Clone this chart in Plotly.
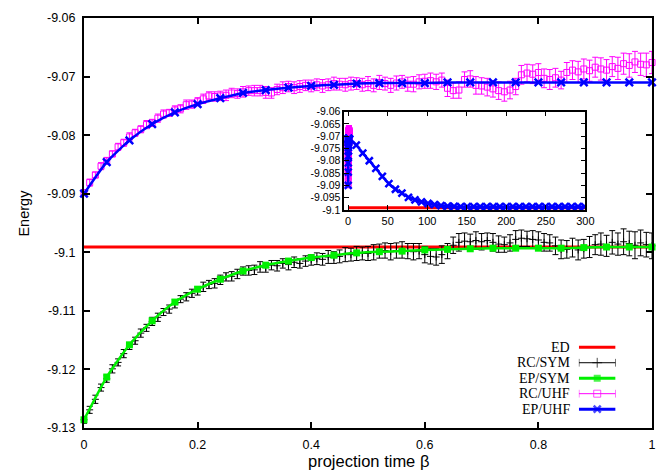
import plotly.graph_objects as go

# ---------------- data ----------------
beta_fine = [round(0.01 * i, 2) for i in range(101)]   # RC samples, step 0.01
beta_ep = [round(0.04 * i, 2) for i in range(26)]      # EP samples, step 0.04

e_ed = -9.0991  # exact diagonalisation

rc_sym = [
    -9.1286, -9.1269, -9.1251, -9.1231, -9.1216, -9.1199, -9.1188, -9.1173, -9.1160, -9.1151,
    -9.1138, -9.1129, -9.1118, -9.1111, -9.1102, -9.1097, -9.1088, -9.1080, -9.1076, -9.1070,
    -9.1066, -9.1059, -9.1055, -9.1053, -9.1047, -9.1042, -9.1041, -9.1037, -9.1032, -9.1031,
    -9.1030, -9.1025, -9.1026, -9.1022, -9.1023, -9.1019, -9.1021, -9.1017, -9.1019, -9.1015,
    -9.1013, -9.1011, -9.1012, -9.1008, -9.1009, -9.1007, -9.1004, -9.1004, -9.1002, -9.1002,
    -9.1002, -9.1000, -9.0998, -9.0997, -9.0999, -9.0997, -9.0996, -9.0998, -9.0999, -9.0998,
    -9.1004, -9.1007, -9.1008, -9.1004, -9.0998, -9.0988, -9.0983, -9.0981, -9.0982, -9.0980,
    -9.0982, -9.0980, -9.0983, -9.0986, -9.0987, -9.0984, -9.0978, -9.0976, -9.0977, -9.0978,
    -9.0979, -9.0983, -9.0984, -9.0989, -9.0995, -9.0995, -9.0992, -9.0996, -9.0994, -9.0991,
    -9.0987, -9.0986, -9.0989, -9.0983, -9.0986, -9.0982, -9.0985, -9.0988, -9.0984, -9.0987,
    -9.0989,
]
# error bars in units of 1e-4
rc_sym_err = [
    6, 6, 7, 6, 6, 7, 6, 7, 6, 6, 7, 6, 7, 7, 6, 7, 7, 6, 7, 7,
    7, 8, 7, 8, 8, 7, 8, 8, 7, 8, 8, 9, 8, 8, 9, 8, 9, 9, 8, 9,
    9, 10, 10, 11, 10, 11, 12, 11, 12, 11, 12, 13, 12, 13, 14, 13, 14, 13, 14, 13,
    14, 13, 14, 15, 13, 14, 15, 14, 13, 15, 14, 13, 15, 14, 13, 14, 15, 14, 13, 15,
    14, 15, 14, 15, 16, 15, 16, 17, 16, 18, 17, 19, 18, 20, 19, 22, 21, 23, 22, 21, 22,
]

ep_sym = [
    -9.1286, -9.1213, -9.1158, -9.1117, -9.1085, -9.1063, -9.1046, -9.1032, -9.1022, -9.1015,
    -9.1009, -9.1005, -9.1001, -9.0999, -9.0998, -9.0996, -9.0995, -9.0994, -9.0993, -9.0993,
    -9.0993, -9.0993, -9.0992, -9.0991, -9.0991, -9.0991,
]

rc_uhf = [
    -9.0898, -9.0881, -9.0868, -9.0853, -9.0844, -9.0832, -9.0820, -9.0813, -9.0803, -9.0796,
    -9.0790, -9.0782, -9.0779, -9.0771, -9.0764, -9.0762, -9.0757, -9.0755, -9.0748, -9.0747,
    -9.0743, -9.0738, -9.0733, -9.0734, -9.0733, -9.0732, -9.0728, -9.0729, -9.0726, -9.0724,
    -9.0724, -9.0724, -9.0727, -9.0728, -9.0722, -9.0719, -9.0717, -9.0719, -9.0717, -9.0715,
    -9.0716, -9.0714, -9.0716, -9.0714, -9.0712, -9.0713, -9.0714, -9.0712, -9.0712, -9.0714,
    -9.0712, -9.0715, -9.0710, -9.0712, -9.0715, -9.0711, -9.0709, -9.0713, -9.0713, -9.0709,
    -9.0708, -9.0707, -9.0709, -9.0706, -9.0720, -9.0724, -9.0723, -9.0705, -9.0704, -9.0715,
    -9.0716, -9.0718, -9.0721, -9.0724, -9.0726, -9.0723, -9.0717, -9.0697, -9.0694, -9.0696,
    -9.0693, -9.0703, -9.0705, -9.0702, -9.0706, -9.0693, -9.0689, -9.0692, -9.0687, -9.0690,
    -9.0684, -9.0687, -9.0689, -9.0683, -9.0686, -9.0678, -9.0681, -9.0675, -9.0679, -9.0680,
    -9.0676,
]
rc_uhf_err = [
    5, 6, 5, 6, 6, 5, 6, 6, 7, 6, 6, 7, 6, 7, 7, 6, 7, 7, 8, 7,
    7, 8, 7, 8, 8, 9, 8, 8, 9, 8, 9, 9, 10, 9, 9, 10, 9, 10, 10, 9,
    10, 10, 11, 10, 11, 10, 11, 11, 10, 11, 12, 11, 12, 11, 12, 12, 11, 12, 13, 12,
    12, 13, 13, 12, 14, 13, 14, 13, 14, 15, 14, 15, 14, 15, 16, 15, 14, 16, 15, 16,
    15, 16, 17, 16, 15, 17, 16, 18, 17, 18, 17, 19, 18, 17, 19, 18, 20, 18, 19, 20, 19,
]

ep_uhf = [
    -9.0900, -9.0846, -9.0809, -9.0781, -9.0761, -9.0747, -9.0737, -9.0728, -9.0723, -9.0719,
    -9.0716, -9.0714, -9.0712, -9.0711, -9.0711, -9.0711, -9.0710, -9.0710, -9.0710, -9.0710,
    -9.0710, -9.0710, -9.0710, -9.0710, -9.0710, -9.0710,
]

# long projection run of EP/UHF (inset)
beta_long = [
    2, 10.25, 18.5, 26.75, 35, 43.25, 51.5, 59.75, 68, 76.25, 84.5, 92.75, 101,
    109.25, 117.5, 125.75, 134, 142.25, 150.5, 158.75, 167, 175.25, 183.5, 191.75,
    200, 208.25, 216.5, 224.75, 233, 241.25, 249.5, 257.75, 266, 274.25, 282.5,
    290.75, 299,
]
ep_uhf_long = [
    -9.0712, -9.0736, -9.0769, -9.0800, -9.0831, -9.0864, -9.0893, -9.0916, -9.0932,
    -9.0949, -9.0959, -9.0967, -9.0974, -9.0979, -9.0983, -9.0985, -9.0986, -9.0987,
    -9.0987, -9.0987, -9.0987, -9.0987, -9.0987, -9.0987, -9.0987, -9.0987, -9.0987,
    -9.0987, -9.0987, -9.0987, -9.0987, -9.0987, -9.0987, -9.0987, -9.0987, -9.0987,
    -9.0987,
]

series_names = ["ED", "RC/SYM", "EP/SYM", "RC/UHF", "EP/UHF"]

y_ticks = [-9.13, -9.12, -9.11, -9.10, -9.09, -9.08, -9.07, -9.06]
y_ticktext = ["-9.13", "-9.12", "-9.11", "-9.1", "-9.09", "-9.08", "-9.07", "-9.06"]
x_ticks = [0, 0.2, 0.4, 0.6, 0.8, 1]
x_ticktext = ["0", "0.2", "0.4", "0.6", "0.8", "1"]
inset_y_ticks = [-9.1, -9.095, -9.09, -9.085, -9.08, -9.075, -9.07, -9.065, -9.06]
inset_y_ticktext = ["-9.1", "-9.095", "-9.09", "-9.085", "-9.08", "-9.075", "-9.07", "-9.065", "-9.06"]
inset_x_ticks = [0, 50, 100, 150, 200, 250, 300]

ERR_UNIT = 1e-4

# ---------------- style ----------------
RED, BLACK, GREEN, MAGENTA, BLUE = "#ff0000", "#000000", "#00f000", "#ff00ff", "#0000ff"
SANS = "Liberation Sans, Arial, sans-serif"
SERIF = "Liberation Serif, Times New Roman, serif"

fig = go.Figure()


def ed_trace(xs, xa, ya):
    return go.Scatter(x=xs, y=[e_ed] * len(xs), mode="lines",
                      line=dict(color=RED, width=3), xaxis=xa, yaxis=ya,
                      hoverinfo="skip")


def rc_trace(xs, ys, errs, color, symbol, size, xa, ya, clip=True):
    return go.Scatter(
        x=xs, y=ys, mode="markers", xaxis=xa, yaxis=ya, cliponaxis=clip,
        marker=dict(symbol=symbol, size=size, color=color,
                    line=dict(color=color, width=1)),
        error_y=dict(type="data", array=[e * ERR_UNIT for e in errs],
                     visible=True, color=color, thickness=1, width=3),
    )


def ep_trace(xs, ys, color, symbol, size, lw, xa, ya, clip=True):
    return go.Scatter(
        x=xs, y=ys, mode="lines+markers", xaxis=xa, yaxis=ya, cliponaxis=clip,
        line=dict(color=color, width=2.5, shape="spline", smoothing=0.6),
        marker=dict(symbol=symbol, size=size, color=color,
                    line=dict(color=color, width=lw)),
    )


# main panel
fig.add_trace(ed_trace([0, 1], "x", "y"))
fig.add_trace(rc_trace(beta_fine, rc_sym, rc_sym_err, BLACK, "cross-thin", 5, "x", "y", False))
fig.add_trace(ep_trace(beta_ep, ep_sym, GREEN, "square", 7, 0, "x", "y", False))
fig.add_trace(rc_trace(beta_fine, rc_uhf, rc_uhf_err, MAGENTA, "square-open", 6, "x", "y", False))
fig.add_trace(ep_trace(beta_ep, ep_uhf, BLUE, "x-thin", 7.5, 2.5, "x", "y", False))

# inset: long projection times
fig.add_trace(ed_trace([0, 300], "x2", "y2"))
fig.add_trace(rc_trace(beta_fine, rc_uhf, rc_uhf_err, MAGENTA, "square-open", 6, "x2", "y2"))
fig.add_trace(ep_trace(beta_ep + beta_long, ep_uhf + ep_uhf_long, BLUE, "x-thin", 7, 2.5, "x2", "y2"))

# key glyphs (one row per series, drawn on a hidden axis)
key_rows = list(range(len(series_names)))
fig.add_trace(go.Scatter(x=[0, 1], y=[key_rows[0]] * 2, mode="lines",
                         line=dict(color=RED, width=3), xaxis="x3", yaxis="y3"))
for row, color, symbol, lw, is_rc in [
    (key_rows[1], BLACK, "cross-thin", 1, True),
    (key_rows[2], GREEN, "square", 0, False),
    (key_rows[3], MAGENTA, "square-open", 1, True),
    (key_rows[4], BLUE, "x-thin", 2.5, False),
]:
    fig.add_trace(go.Scatter(
        x=[0, 0.5, 1], y=[row] * 3, mode="lines+markers", xaxis="x3", yaxis="y3",
        line=dict(color=color, width=1 if is_rc else 3),
        marker=dict(symbol=symbol, size=[0, 7, 0], color=color,
                    line=dict(color=color, width=lw)),
        error_y=dict(type="data", array=[0.25, 0, 0.25], visible=is_rc,
                     color=color, thickness=1, width=0),
    ))

axis_common = dict(showline=True, linecolor="black", mirror="ticks", ticks="inside",
                   tickcolor="black", showgrid=False, zeroline=False)

fig.update_layout(
    width=672, height=470,
    margin=dict(l=84, r=11, t=15, b=42),
    paper_bgcolor="white", plot_bgcolor="white",
    showlegend=False,
    xaxis=dict(domain=[0, 1], range=[0, 1], tickvals=x_ticks, ticktext=x_ticktext,
               ticklen=6, tickwidth=1.5, linewidth=2, ticklabelstandoff=4,
               tickfont=dict(family=SANS, size=12.5, color="black"), **axis_common),
    yaxis=dict(domain=[0, 1], range=[-9.13, -9.06], tickvals=y_ticks, ticktext=y_ticktext,
               ticklen=6, tickwidth=1.5, linewidth=2, ticklabelstandoff=4,
               tickfont=dict(family=SANS, size=12.5, color="black"), **axis_common),
    xaxis2=dict(domain=[0.4581, 0.8827], range=[-5, 300], anchor="y2",
                tickvals=inset_x_ticks, ticklen=5, tickwidth=1.2, linewidth=1.5,
                tickfont=dict(family=SANS, size=11, color="black"), **axis_common),
    yaxis2=dict(domain=[0.532, 0.7717], range=[-9.1, -9.06], anchor="x2",
                tickvals=inset_y_ticks, ticktext=inset_y_ticktext, ticklen=5,
                tickwidth=1.2, linewidth=1.5,
                tickfont=dict(family=SANS, size=10.5, color="black"), **axis_common),
    xaxis3=dict(domain=[0.8712, 0.9359], range=[0, 1], anchor="y3", visible=False),
    yaxis3=dict(domain=[0.0271, 0.2158], range=[4.5, -0.5], anchor="x3", visible=False),
)

# axis titles
fig.add_annotation(text="Energy", xref="paper", yref="paper", x=-0.1057, y=0.5254,
                   textangle=-90, showarrow=False, xanchor="center", yanchor="middle",
                   font=dict(family=SANS, size=14.5, color="black"))
fig.add_annotation(text="projection time β", xref="paper", yref="paper", x=0.5, y=-0.0800,
                   showarrow=False, xanchor="center", yanchor="middle", borderpad=0,
                   font=dict(family=SANS, size=16.5, color="black"))

# key labels, right-aligned next to their glyphs
key_y = [0.1969, 0.1590, 0.1203, 0.0840, 0.0460]
for name, ky in zip(series_names, key_y):
    fig.add_annotation(text=name, xref="paper", yref="paper", x=0.858, y=ky,
                       showarrow=False, xanchor="right", yanchor="middle", borderpad=0,
                       font=dict(family=SERIF, size=14, color="black"))

fig.write_html("out.html")
